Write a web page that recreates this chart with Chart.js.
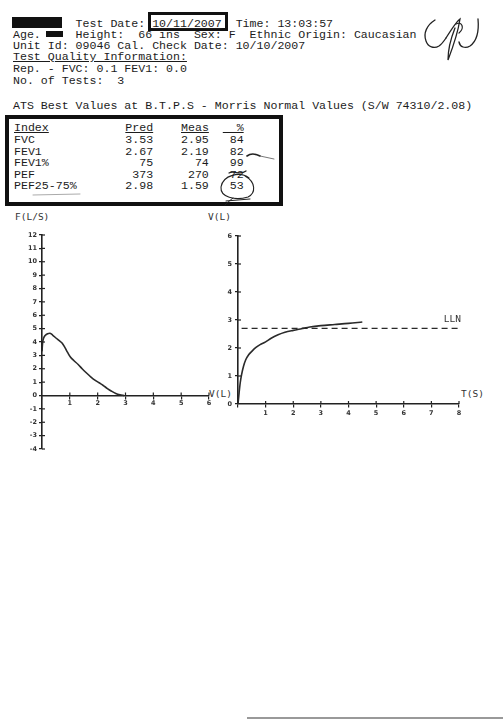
<!DOCTYPE html>
<html><head><meta charset="utf-8">
<script src="https://cdn.jsdelivr.net/npm/chart.js@4.4.1/dist/chart.umd.min.js"></script>
<style>
html,body{margin:0;padding:0;background:#fff;}
#page{position:relative;width:503px;height:720px;overflow:hidden;background:#fff;}
.t{position:absolute;left:13px;font-family:"Liberation Mono",monospace;font-size:11.6px;line-height:12px;white-space:pre;color:#1c1c1c;}
.u{text-decoration:underline;}
.lbl{position:absolute;font-family:"DejaVu Sans Mono",monospace;font-size:9.5px;line-height:10px;color:#333;white-space:pre;}
.blk{position:absolute;background:#111;}
canvas{position:absolute;}
</style></head>
<body><div id="page">
<div class="blk" style="left:12px;top:17px;width:50px;height:11px"></div>
<div class="blk" style="left:46px;top:31px;width:17px;height:6px"></div>
<div style="position:absolute;left:148px;top:12px;width:80px;height:19px;box-sizing:border-box;border:3px solid #111"></div>
<div class="t" style="top:18px">         Test Date: <span class="u">10/11/2007</span>  Time: 13:03:57</div>
<div class="t" style="top:29px">Age.     Height:  66 ins  Sex: F  Ethnic Origin: Caucasian</div>
<div class="t" style="top:40px">Unit Id: 09046 Cal. Check Date: 10/10/2007</div>
<div class="t" style="top:51px"><span class="u">Test Quality Information:</span></div>
<div class="t" style="top:63px">Rep. - FVC: 0.1 FEV1: 0.0</div>
<div class="t" style="top:75px">No. of Tests:  3</div>
<div class="t" style="top:100px">ATS Best Values at B.T.P.S - Morris Normal Values (S/W 74310/2.08)</div>
<div style="position:absolute;left:5px;top:115px;width:278px;height:91px;box-sizing:border-box;border:4px solid #111"></div>
<div class="t" id="tbl" style="left:14px;top:122.4px;line-height:11.6px"></div>

<div class="lbl" style="left:15px;top:212px">F(L/S)</div>
<div class="lbl" style="left:208px;top:212px">V(L)</div>
<div class="lbl" style="left:209px;top:389px">V(L)</div>
<div class="lbl" style="left:461px;top:389px">T(S)</div>

<canvas id="c1" width="225" height="245" style="left:0;top:220px;width:225px;height:245px"></canvas>
<canvas id="c2" width="303" height="200" style="left:200px;top:220px;width:303px;height:200px"></canvas>

<svg width="503" height="720" style="position:absolute;left:0;top:0;pointer-events:none" fill="none" stroke="#222" stroke-linecap="round">
<path stroke-width="1.3" d="M435,20 C427,25 423,33 426,41 C428,47 434,49 439,46 C442,44 444,41 446,38"/>
<path stroke-width="1.3" d="M446,38 C451,30 456,22 460,19 C458,32 453,47 448,60 C448,50 451,38 455,28"/>
<path stroke-width="1.2" d="M456,24 C462,21 465,28 459,33"/>
<path stroke-width="1.3" d="M478,19 C479,30 477,41 470,46 C465,49 460,47 459,42"/>
<path stroke-width="1.1" d="M249,178 C240,171 223,175 221,187 C220,197 235,201 248,197 C256,193 256,182 245,176"/>
<path stroke-width="1" d="M226,201 L250,199 M233,198 C229,201 227,203 225,205"/>
<path stroke-width="1.6" d="M247,156 C251,153 256,154 260,156"/>
<path stroke-width="0.8" stroke="#555" d="M260,156 L274,159"/>
<path stroke-width="1.2" d="M229,173 C234,170 240,176 246,171"/>
<path stroke-width="1" stroke="#aaa" d="M33,195 L80,194"/>
</svg>
<div style="position:absolute;left:247px;top:717px;width:256px;height:2px;background:#999"></div>
</div>
<script>
// ---- table data ----
const tableIndex = ['FVC', 'FEV1', 'FEV1%', 'PEF', 'PEF25-75%'];
const tablePred  = ['3.53', '2.67', '75', '373', '2.98'];
const tableMeas  = ['2.95', '2.19', '74', '270', '1.59'];
const tablePct   = ['84', '82', '99', '72', '53'];

// ---- flow-volume curve ----
const fvVolume = [0, 0.02, 0.06, 0.12, 0.2, 0.28, 0.38, 0.5, 0.62, 0.72, 0.82, 0.92, 1.02, 1.15, 1.3, 1.45, 1.6, 1.75, 1.9, 2.05, 2.2, 2.35, 2.5, 2.65, 2.8, 2.95];
const fvFlow   = [3.3, 3.9, 4.3, 4.5, 4.62, 4.65, 4.52, 4.3, 4.1, 3.92, 3.6, 3.22, 2.88, 2.6, 2.32, 1.98, 1.68, 1.4, 1.15, 0.95, 0.75, 0.52, 0.32, 0.15, 0.05, 0.0];
const flowAxis   = [-4, 12];
const fvVolAxis  = [0, 6];

// ---- volume-time curve ----
const vtTime   = [0, 0.04, 0.08, 0.13, 0.2, 0.28, 0.38, 0.5, 0.65, 0.8, 1.0, 1.2, 1.45, 1.7, 2.0, 2.3, 2.6, 3.0, 3.5, 4.0, 4.5];
const vtVolume = [0, 0.4, 0.75, 1.05, 1.35, 1.58, 1.75, 1.88, 2.02, 2.12, 2.22, 2.35, 2.47, 2.56, 2.63, 2.69, 2.75, 2.8, 2.84, 2.88, 2.93];
const vtTimeAxis = [0, 8];
const vtVolAxis  = [0, 6];
const llnValue = 2.7;
const llnTimes = [0.13, 8];
const llnText = 'LLN';

// build table text
(function(){
  let html = '<span class="u">Index</span>' + ' '.repeat(11) + '<span class="u">Pred</span>' + '    ' +
             '<span class="u">Meas</span>' + '  ' + '<span class="u">  %</span>';
  for (let i = 0; i < tableIndex.length; i++) {
    html += '\n' + tableIndex[i].padEnd(16) + tablePred[i].padStart(4) + '    ' + tableMeas[i].padStart(4) + '   ' + tablePct[i].padStart(2);
  }
  document.getElementById('tbl').innerHTML = html;
})();

const tickFont = {family: 'DejaVu Sans', size: 6.5, weight: 'bold'};
const inkColor = '#222';

const crossTicks = {
  id: 'crossTicks',
  afterDraw(chart) {
    const ctx = chart.ctx, xs = chart.scales.x, ys = chart.scales.y;
    ctx.save();
    ctx.strokeStyle = inkColor; ctx.lineWidth = 1.2;
    const y0 = ys.getPixelForValue(0), x0 = xs.getPixelForValue(0);
    xs.ticks.forEach(t => {
      if (t.value === 0) return;
      const px = xs.getPixelForValue(t.value);
      ctx.beginPath(); ctx.moveTo(px, y0 - 3); ctx.lineTo(px, y0); ctx.stroke();
    });
    ys.ticks.forEach(t => {
      if (t.value === 0) return;
      const py = ys.getPixelForValue(t.value);
      ctx.beginPath(); ctx.moveTo(x0, py); ctx.lineTo(x0 + 3, py); ctx.stroke();
    });
    const lbl = chart.options.plugins.crossTicks && chart.options.plugins.crossTicks.label;
    if (lbl) {
      ctx.fillStyle = '#333';
      ctx.font = '9.5px "DejaVu Sans Mono"';
      ctx.textAlign = 'left'; ctx.textBaseline = 'alphabetic';
      ctx.fillText(lbl.text, xs.getPixelForValue(lbl.x), ys.getPixelForValue(lbl.y));
    }
    ctx.restore();
  }
};

function axisCommon(extra) {
  return Object.assign({
    type: 'linear',
    grid: {drawOnChartArea: false, drawTicks: true, tickLength: 3, color: inkColor, lineWidth: 1.2},
    border: {color: inkColor, width: 1.6},
  }, extra);
}

new Chart(document.getElementById('c1'), {
  type: 'scatter',
  data: {datasets: [{
    data: fvVolume.map((v, i) => ({x: v, y: fvFlow[i]})),
    showLine: true, borderColor: '#2a2a2a', borderWidth: 1.6, pointRadius: 0,
    cubicInterpolationMode: 'monotone'
  }]},
  options: {
    responsive: false, animation: false, events: [],
    layout: {padding: {left: 0, top: 15, right: 16, bottom: 16}},
    plugins: {legend: {display: false}, tooltip: {enabled: false}},
    scales: {
      x: axisCommon({min: fvVolAxis[0], max: fvVolAxis[1], position: {y: 0},
        ticks: {stepSize: 1, autoSkip: false, maxRotation: 0, padding: 1, font: tickFont, color: '#333',
          callback: v => v === 0 ? '' : v}}),
      y: axisCommon({min: flowAxis[0], max: flowAxis[1],
        ticks: {stepSize: 1, autoSkip: false, padding: 2, font: tickFont, color: '#333'},
        afterFit: s => { s.width = 42; }})
    }
  },
  plugins: [crossTicks]
});

new Chart(document.getElementById('c2'), {
  type: 'scatter',
  data: {datasets: [
    {data: vtTime.map((t, i) => ({x: t, y: vtVolume[i]})),
     showLine: true, borderColor: '#2a2a2a', borderWidth: 1.6, pointRadius: 0, cubicInterpolationMode: 'monotone'},
    {data: llnTimes.map(t => ({x: t, y: llnValue})),
     showLine: true, borderColor: '#2a2a2a', borderWidth: 1.4, borderDash: [6, 4], pointRadius: 0}
  ]},
  options: {
    responsive: false, animation: false, events: [],
    layout: {padding: {left: 0, top: 16, right: 44, bottom: 16}},
    plugins: {legend: {display: false}, tooltip: {enabled: false},
      crossTicks: {label: {text: llnText, x: 7.45, y: 2.93}}},
    scales: {
      x: axisCommon({min: vtTimeAxis[0], max: vtTimeAxis[1], position: {y: 0},
        ticks: {stepSize: 1, autoSkip: false, maxRotation: 0, padding: 2, font: tickFont, color: '#333',
          callback: v => v === 0 ? '' : v}}),
      y: axisCommon({min: vtVolAxis[0], max: vtVolAxis[1],
        ticks: {stepSize: 1, autoSkip: false, padding: 3, font: tickFont, color: '#333'},
        afterFit: s => { s.width = 38; }})
    }
  },
  plugins: [crossTicks]
});
</script>
</body></html>
